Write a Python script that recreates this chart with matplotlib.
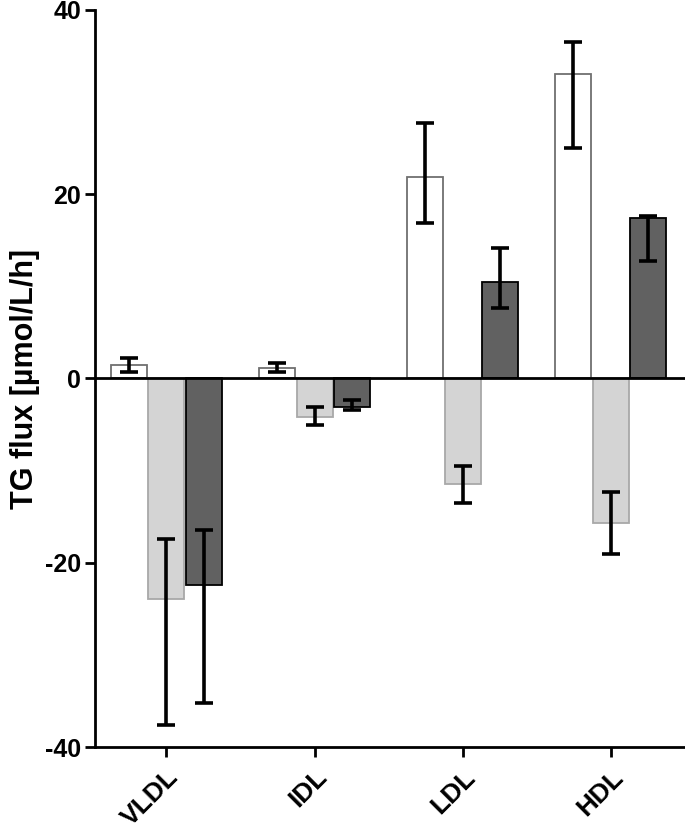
import numpy as np
import matplotlib
matplotlib.use("Agg")
import matplotlib.pyplot as plt

plt.rcParams['font.family'] = ['Liberation Sans', 'DejaVu Sans']
plt.rcParams['font.weight'] = 'bold'
plt.rcParams['axes.unicode_minus'] = False

# data
classes = ['VLDL', 'IDL', 'LDL', 'HDL']
white_mean = [1.5, 1.1, 21.9, 33.0]
white_lo = [0.74, 0.68, 16.9, 25.0]
white_hi = [2.26, 1.73, 27.7, 36.5]
light_mean = [-23.9, -4.15, -11.5, -15.7]
light_lo = [-37.6, -5.1, -13.5, -19.1]
light_hi = [-17.4, -3.07, -9.5, -12.3]
dark_mean = [-22.4, -3.07, 10.5, 17.4]
dark_lo = [-35.2, -3.44, 7.6, 12.8]
dark_hi = [-16.5, -2.35, 14.2, 17.6]

x = np.arange(len(classes))
w = 0.243
off = 0.253

fig = plt.figure(figsize=(6.85, 8.3), dpi=100)
ax = fig.add_axes([0.139, 0.1, 0.861, 0.888])

series = [
    (-off, white_mean, white_lo, white_hi, 'white', '#707070'),
    (0, light_mean, light_lo, light_hi, '#d4d4d4', '#a8a8a8'),
    (off, dark_mean, dark_lo, dark_hi, '#616161', 'black'),
]
for dx, m, lo, hi, fc, ec in series:
    m = np.array(m)
    err = [m - np.array(lo), np.array(hi) - m]
    ax.bar(x + dx, m, width=w, color=fc, edgecolor=ec, linewidth=1.3, zorder=2)
    ax.errorbar(x + dx, m, yerr=err, fmt='none', ecolor='black',
                elinewidth=2.6, capsize=6.5, capthick=2.6, zorder=3)

ax.axhline(0, color='black', linewidth=2.0, zorder=4)

ax.set_ylim(-40, 40)
ax.set_xlim(-0.48, 3.5)
ax.set_yticks([-40, -20, 0, 20, 40])
ax.set_xticks(x)
ax.set_xticklabels(classes, rotation=45, ha='right', rotation_mode='anchor', fontsize=19)
ax.set_ylabel('TG flux [µmol/L/h]', fontsize=22, fontweight='bold', labelpad=4)

for s in ['top', 'right']:
    ax.spines[s].set_visible(False)
for s in ['left', 'bottom']:
    ax.spines[s].set_linewidth(2.0)
ax.tick_params(axis='both', width=2.0, length=7)
ax.tick_params(axis='y', labelsize=18, pad=3)
ax.tick_params(axis='x', pad=6)

fig.savefig('out.png', dpi=100)
